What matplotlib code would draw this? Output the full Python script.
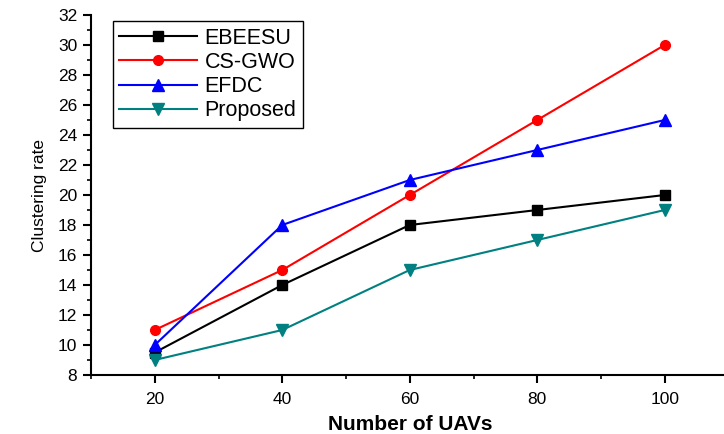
import matplotlib.pyplot as plt
from matplotlib.ticker import MultipleLocator

plt.rcParams['font.family'] = ['Liberation Sans', 'DejaVu Sans']

# Data
uavs = [20, 40, 60, 80, 100]
ebeesu = [9.5, 14, 18, 19, 20]
cs_gwo = [11, 15, 20, 25, 30]
efdc = [10, 18, 21, 23, 25]
proposed = [9, 11, 15, 17, 19]

fig = plt.figure(figsize=(7.24, 4.34), dpi=100)
ax = fig.add_axes([91 / 724, 59 / 434, 637.5 / 724, 360 / 434])

ax.plot(uavs, ebeesu, color='black', marker='s', ms=7, lw=1.5, label='EBEESU')
ax.plot(uavs, cs_gwo, color='red', marker='o', ms=7, lw=1.5, label='CS-GWO')
ax.plot(uavs, efdc, color='blue', marker='^', ms=8, lw=1.5, label='EFDC')
ax.plot(uavs, proposed, color='#008080', marker='v', ms=8, lw=1.5, label='Proposed')

ax.set_xlim(10, 110)
ax.set_ylim(8, 32)
ax.xaxis.set_major_locator(MultipleLocator(20))
ax.xaxis.set_minor_locator(MultipleLocator(10))
ax.yaxis.set_major_locator(MultipleLocator(2))
ax.yaxis.set_minor_locator(MultipleLocator(1))

for s in ['top', 'right']:
    ax.spines[s].set_visible(False)
for s in ['left', 'bottom']:
    ax.spines[s].set_linewidth(1.5)

ax.tick_params(which='major', direction='out', length=6, width=1.5, labelsize=12.5, colors='black')
ax.tick_params(which='minor', direction='out', length=3, width=1.2)
ax.tick_params(axis='x', pad=6)
ax.tick_params(axis='y', pad=4)

ax.set_xlabel('Number of UAVs', fontsize=15, fontweight='bold', labelpad=6)
ax.set_ylabel('Clustering rate', fontsize=12.5, labelpad=8)

leg = ax.legend(loc='upper left', bbox_to_anchor=(0.0345, 0.983), borderaxespad=0,
                fontsize=15.5, frameon=True, fancybox=False, edgecolor='black',
                framealpha=1, handlelength=3.6, borderpad=0.3, labelspacing=0.15,
                handletextpad=0.35)
leg.get_frame().set_linewidth(1.0)

fig.savefig('out.png', dpi=100)
